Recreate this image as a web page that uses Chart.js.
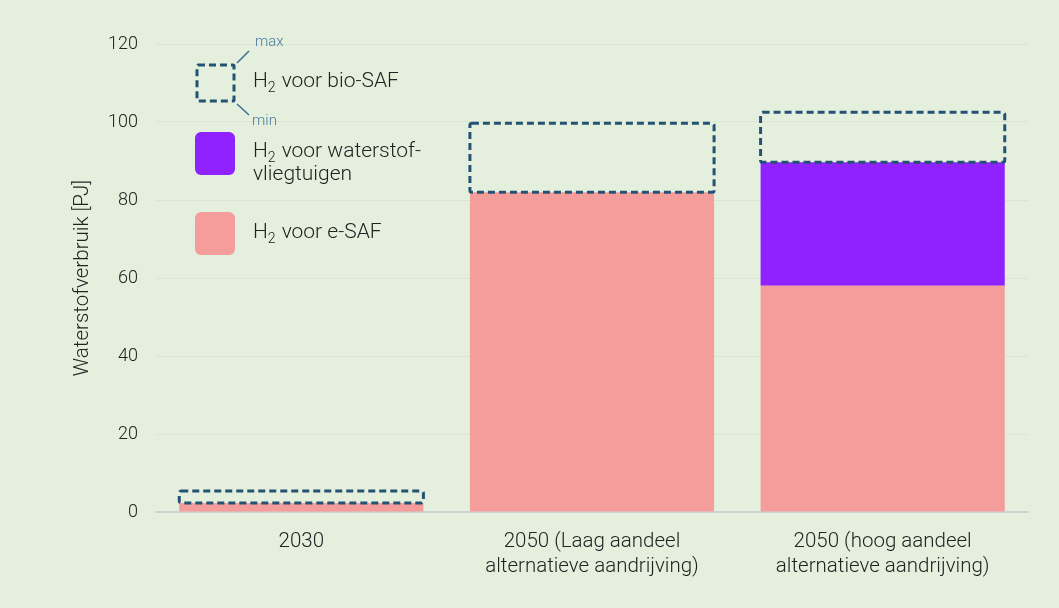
<!DOCTYPE html>
<html>
<head>
<meta charset="utf-8">
<script src="https://cdn.jsdelivr.net/npm/chart.js@4/dist/chart.umd.min.js"></script>
<style>
  html, body { margin: 0; padding: 0; background: #e4f0dd; }
  #wrap { width: 1059px; height: 608px; position: relative; }
</style>
</head>
<body>
<div id="wrap"><canvas id="c" width="1059" height="608"></canvas></div>
<script>
const categories = ["2030", ["2050 (Laag aandeel", "alternatieve aandrijving)"], ["2050 (hoog aandeel", "alternatieve aandrijving)"]];
const eSAF = [2.3, 82, 58];
const waterstofVliegtuigen = [0, 0, 31.7];
const bioSafMin = [0, 0, 0];
const bioSafMax = [3.1, 17.7, 12.8];
const yTicks = [0, 20, 40, 60, 80, 100, 120];

const FONT = "Roboto";
const dashColor = "#245274";

const stackTop = eSAF.map((v, i) => v + waterstofVliegtuigen[i]);

const dashedBoxes = {
  id: 'dashedBoxes',
  afterDatasetsDraw(chart) {
    const meta = chart.getDatasetMeta(2);
    const ctx = chart.ctx;
    ctx.save();
    ctx.strokeStyle = dashColor;
    ctx.lineWidth = 3;
    ctx.setLineDash([7, 4]);
    meta.data.forEach(el => {
      const p = el.getProps(['x', 'y', 'base', 'width'], true);
      const l = p.x - p.width / 2, r = p.x + p.width / 2;
      ctx.beginPath();
      ctx.roundRect(l, p.y, r - l, p.base - p.y, 2);
      ctx.stroke();
    });
    ctx.restore();
  }
};

function drawH2(ctx, x, y, rest) {
  ctx.font = "300 21px " + FONT;
  ctx.fillText("H", x, y);
  let w = ctx.measureText("H").width;
  ctx.font = "300 14px " + FONT;
  ctx.fillText("2", x + w, y + 6);
  let w2 = ctx.measureText("2").width;
  ctx.font = "300 21px " + FONT;
  ctx.fillText(rest, x + w + w2 + 6, y);
}

const legendPlugin = {
  id: 'customLegend',
  afterDraw(chart) {
    const ctx = chart.ctx;
    ctx.save();
    ctx.textBaseline = 'middle';
    ctx.textAlign = 'left';
    // bio-SAF dashed square
    ctx.strokeStyle = dashColor;
    ctx.lineWidth = 3;
    ctx.setLineDash([7, 4]);
    ctx.beginPath();
    ctx.roundRect(197, 65, 37, 36, 1);
    ctx.stroke();
    ctx.setLineDash([]);
    ctx.lineWidth = 1.5;
    ctx.strokeStyle = "#3d6f92";
    ctx.beginPath();
    ctx.moveTo(237, 63); ctx.lineTo(249, 51);
    ctx.moveTo(237, 104); ctx.lineTo(249, 115);
    ctx.stroke();
    ctx.fillStyle = "#4b7da0";
    ctx.font = "300 15px " + FONT;
    ctx.fillText("max", 255, 42);
    ctx.fillText("min", 252, 121);
    ctx.fillStyle = "#222";
    drawH2(ctx, 253, 82, "voor bio-SAF");
    // purple
    ctx.fillStyle = "#8f22ff";
    ctx.beginPath();
    ctx.roundRect(195, 132, 40, 43, 6);
    ctx.fill();
    ctx.fillStyle = "#222";
    drawH2(ctx, 253, 152, "voor waterstof-");
    ctx.font = "300 21px " + FONT;
    ctx.fillText("vliegtuigen", 253, 175);
    // pink
    ctx.fillStyle = "#f59d9b";
    ctx.beginPath();
    ctx.roundRect(195, 212, 40, 43, 6);
    ctx.fill();
    ctx.fillStyle = "#222";
    drawH2(ctx, 253, 233, "voor e-SAF");
    ctx.restore();
  }
};

new Chart(document.getElementById('c'), {
  type: 'bar',
  data: {
    labels: categories,
    datasets: [
      {
        label: 'H2 voor e-SAF',
        data: eSAF.map(v => [0, v]),
        backgroundColor: '#f59d9b',
        borderWidth: 0
      },
      {
        label: 'H2 voor waterstofvliegtuigen',
        data: waterstofVliegtuigen.map((v, i) => [eSAF[i], eSAF[i] + v]),
        backgroundColor: '#8f22ff',
        borderWidth: 0
      },
      {
        label: 'H2 voor bio-SAF',
        data: bioSafMax.map((v, i) => [stackTop[i] + bioSafMin[i], stackTop[i] + v]),
        backgroundColor: 'rgba(0,0,0,0)',
        borderWidth: 0
      }
    ]
  },
  options: {
    responsive: false,
    animation: false,
    categoryPercentage: 1,
    barPercentage: 0.84,
    layout: { padding: { left: 0, right: 31, top: 44, bottom: 0 } },
    plugins: { legend: { display: false }, tooltip: { enabled: false } },
    scales: {
      x: {
        stacked: true,
        grid: { display: false, drawTicks: false },
        border: { display: true, color: '#cfd4d0', width: 2 },
        ticks: { color: '#222', font: { family: FONT, size: 20.5, weight: 300, lineHeight: 1.22 }, padding: 17, maxRotation: 0, autoSkip: false },
        afterFit(s) { s.height = 96; }
      },
      y: {
        stacked: false,
        min: 0, max: 120,
        afterBuildTicks(s) { s.ticks = yTicks.map(v => ({ value: v })); },
        grid: { color: 'rgba(0,0,0,0.045)', drawTicks: false, lineWidth: 1 },
        border: { display: false },
        ticks: { color: '#222', font: { family: FONT, size: 18, weight: 300 }, padding: 18 },
        title: { display: true, text: 'Waterstofverbruik [PJ]', color: '#222', font: { family: FONT, size: 20.5, weight: 300 }, padding: { top: 71, bottom: 0 } },
        afterFit(s) { s.width = 156; }
      }
    }
  },
  plugins: [dashedBoxes, legendPlugin]
});
</script>
</body>
</html>
